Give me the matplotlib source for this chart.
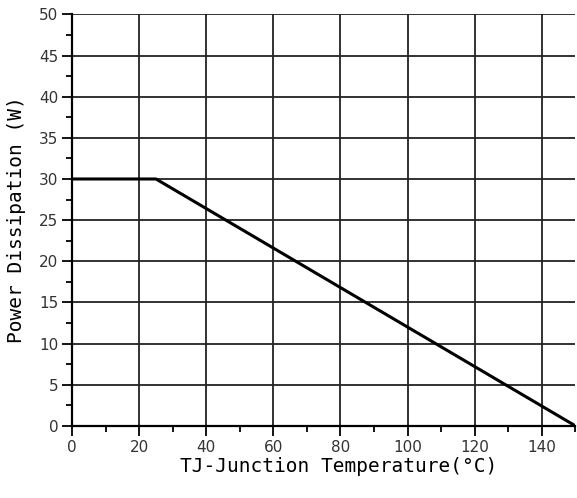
import matplotlib
matplotlib.use('Agg')
import matplotlib.pyplot as plt
from matplotlib.ticker import MultipleLocator

# derating curve
temp = [0, 25, 150]
power = [30, 30, 0]

x_ticks = [0, 20, 40, 60, 80, 100, 120, 140]
y_ticks = [0, 5, 10, 15, 20, 25, 30, 35, 40, 45, 50]

fig = plt.figure(figsize=(5.77, 4.98), dpi=100)
ax = fig.add_axes([0.125, 0.145, 0.872, 0.826])

ax.plot(temp, power, color='black', lw=2.2, solid_capstyle='butt', zorder=3)

ax.set_xlim(0, 150)
ax.set_ylim(0, 50)
ax.set_xticks(x_ticks)
ax.set_yticks(y_ticks)
ax.xaxis.set_minor_locator(MultipleLocator(10))
ax.yaxis.set_minor_locator(MultipleLocator(2.5))
ax.grid(True, which='major', color='#222222', lw=1.3)
ax.set_axisbelow(True)

for s in ['top', 'right']:
    ax.spines[s].set_visible(False)
for s in ['left', 'bottom']:
    ax.spines[s].set_linewidth(1.6)

tick_font = ['Liberation Sans Narrow', 'DejaVu Sans']
ax.tick_params(which='major', direction='out', length=7, width=1.3, pad=3)
ax.tick_params(which='minor', direction='out', length=4, width=1.3)
for lab in ax.get_xticklabels() + ax.get_yticklabels():
    lab.set_fontfamily(tick_font)
    lab.set_fontsize(11)
    lab.set_color('#333333')

ax.set_xlabel('TJ-Junction Temperature(°C)', fontfamily=['DejaVu Sans Mono'],
              fontsize=14)
ax.xaxis.set_label_coords(0.53, -0.075)
ax.set_ylabel('Power Dissipation (W)', fontfamily=['DejaVu Sans Mono'],
              fontsize=14, labelpad=9)

fig.savefig('out.png', dpi=100)
